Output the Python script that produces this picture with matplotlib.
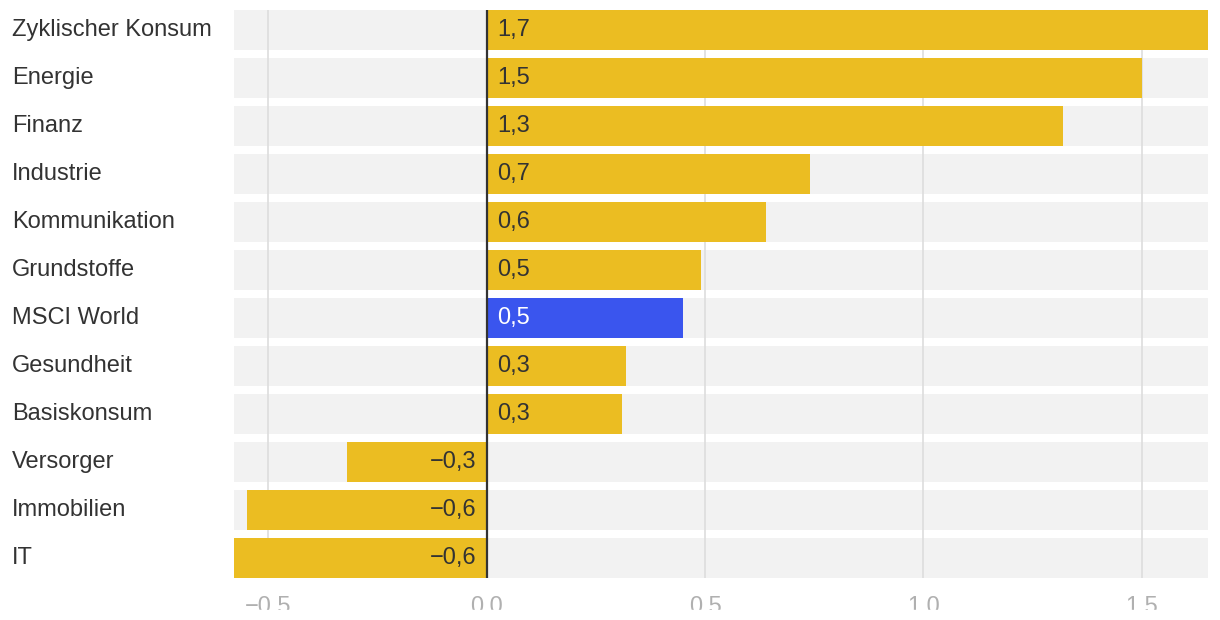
import matplotlib.pyplot as plt
from matplotlib.patches import Rectangle

# sector returns (%)
sectors = ["Zyklischer Konsum", "Energie", "Finanz", "Industrie", "Kommunikation",
           "Grundstoffe", "MSCI World", "Gesundheit", "Basiskonsum", "Versorger",
           "Immobilien", "IT"]
values = [1.70, 1.50, 1.32, 0.74, 0.64, 0.49, 0.45, 0.32, 0.31, -0.32, -0.55, -0.62]
value_labels = ["1,7", "1,5", "1,3", "0,7", "0,6", "0,5", "0,5", "0,3", "0,3",
                "\u22120,3", "\u22120,6", "\u22120,6"]
highlight = "MSCI World"
xticks = [-0.5, 0.0, 0.5, 1.0, 1.5]
xtick_labels = ["\u22120.5", "0.0", "0.5", "1.0", "1.5"]

yellow = "#ebbd22"
blue = "#3a55ee"

plt.rcParams['font.family'] = ['Liberation Sans', 'DejaVu Sans']

W, H = 1220, 620
fig = plt.figure(figsize=(W / 100, H / 100), dpi=100)
ax = fig.add_axes([234 / W, 1 - 578 / H, (1208 - 234) / W, (578 - 10) / H])

n = len(sectors)
pos = list(range(n))
h = 40 / 48
xmin, xmax = -0.579, 1.652
fs = 17

# background bands
ax.barh(pos, [xmax - xmin] * n, left=xmin, height=h, color="#f2f2f2", zorder=0)
for t in xticks:
    if t != 0:
        ax.axvline(t, color="#dddddd", lw=1.2, zorder=1)

colors = [blue if s == highlight else yellow for s in sectors]
ax.barh(pos, values, height=h, color=colors, zorder=2)
ax.axvline(0, color="#333333", lw=1.6, zorder=4)

off = 10 / 436.7
for i, (v, lab, s) in enumerate(zip(values, value_labels, sectors)):
    c = "white" if s == highlight else "#333333"
    if v >= 0:
        ax.text(off, i, lab, ha="left", va="center", fontsize=fs, color=c, zorder=5)
    else:
        ax.text(-off, i, lab, ha="right", va="center", fontsize=fs, color=c, zorder=5)

ax.set_xlim(xmin, xmax)
ax.set_ylim(n - 0.5 - (1 - h) / 2, -h / 2)

ax.set_yticks(pos)
ax.set_yticklabels(sectors, fontsize=fs, color="#333333")
ax.tick_params(axis="y", length=0, pad=(234 - 12) * 0.72)
for lab in ax.get_yticklabels():
    lab.set_horizontalalignment("left")
    lab.set_verticalalignment("center")

ax.set_xticks(xticks)
ax.set_xticklabels(xtick_labels, fontsize=fs, color="#b0b0b0")
ax.tick_params(axis="x", length=0, pad=13)

for sp in ax.spines.values():
    sp.set_visible(False)

# bottom of the tick labels is cut off in the original
fig.patches.append(Rectangle((0, 0), 1, 10 / H, transform=fig.transFigure,
                             color="white", zorder=10))

fig.savefig("out.png", dpi=100)
